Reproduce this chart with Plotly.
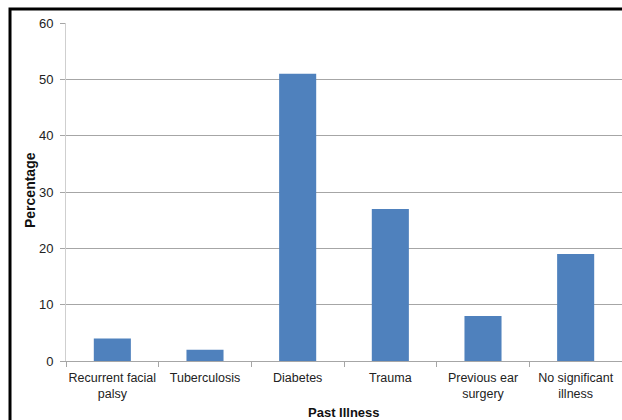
import plotly.graph_objects as go

# Past illness distribution (percentage of patients)
categories = ["Recurrent facial<br>palsy", "Tuberculosis", "Diabetes", "Trauma",
              "Previous ear<br>surgery", "No significant<br>illness"]
percentages = [4, 2, 51, 27, 8, 19]
y_ticks = [0, 10, 20, 30, 40, 50, 60]

BAR_COLOR = "#4f81bd"
GRID_COLOR = "#a6a6a6"
FONT = "Liberation Sans"
TEXT_COLOR = "#222222"

fig = go.Figure(
    go.Bar(
        x=categories,
        y=percentages,
        marker=dict(color=BAR_COLOR, line=dict(width=0)),
    )
)

fig.update_layout(
    width=622,
    height=420,
    margin=dict(l=66, r=0, t=23, b=59),
    paper_bgcolor="white",
    plot_bgcolor="white",
    bargap=0.6,
    showlegend=False,
    font=dict(family=FONT, size=12, color=TEXT_COLOR),
    xaxis=dict(
        automargin=False,
        tickangle=0,
        showgrid=False,
        showline=True,
        linecolor=GRID_COLOR,
        linewidth=1,
        ticks="outside",
        tickson="boundaries",
        ticklen=5,
        tickcolor=GRID_COLOR,
        ticklabelstandoff=5,
        tickfont=dict(family=FONT, size=12.5, color=TEXT_COLOR),
    ),
    yaxis=dict(
        automargin=False,
        range=[0, 60],
        tickvals=y_ticks,
        showgrid=True,
        gridcolor=GRID_COLOR,
        gridwidth=1,
        showline=True,
        linecolor="#cfcfcf",
        linewidth=1,
        ticks="outside",
        ticklen=5,
        tickcolor=GRID_COLOR,
        ticklabelstandoff=4,
        zeroline=False,
        tickfont=dict(family=FONT, size=13, color=TEXT_COLOR),
    ),
)

# Axis titles placed as paper annotations
fig.add_annotation(
    text="<b>Past Illness</b>", xref="paper", yref="paper",
    x=(344 - 66) / 556, y=(361 - 412) / 338, showarrow=False,
    xanchor="center", yanchor="middle",
    font=dict(family=FONT, size=13, color="#111111"),
)
fig.add_annotation(
    text="<b>Percentage</b>", xref="paper", yref="paper",
    x=(30 - 66) / 556, y=(361 - 190) / 338, showarrow=False, textangle=-90,
    xanchor="center", yanchor="middle",
    font=dict(family=FONT, size=14, color="#111111"),
)

# Black chart frame (extends past the right and bottom edges)
fig.add_shape(
    type="rect", xref="paper", yref="paper",
    x0=-0.1007, x1=1.05, y0=-0.3, y1=1.0414,
    line=dict(color="black", width=3), fillcolor="rgba(0,0,0,0)",
    layer="above",
)

fig.write_html("out.html")
